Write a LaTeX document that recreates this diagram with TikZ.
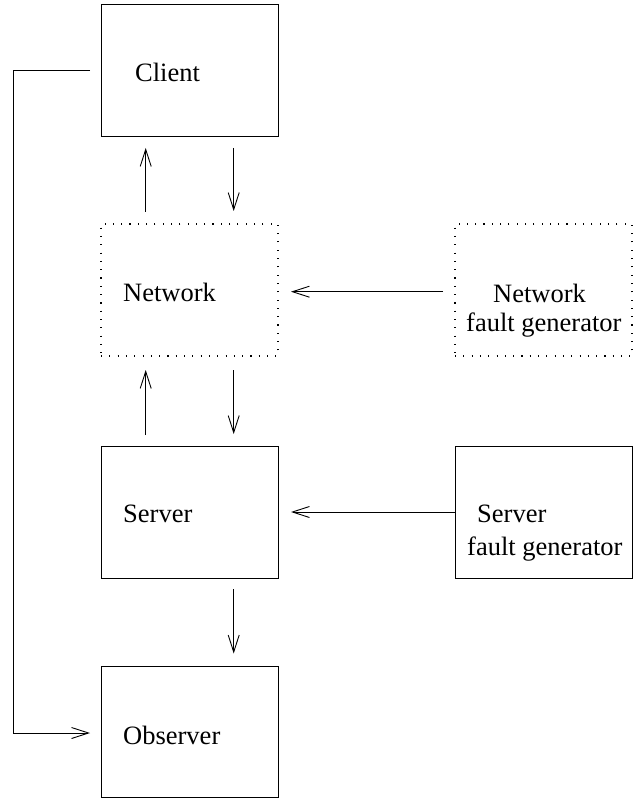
\documentclass[tikz,border=0pt]{standalone}
\usepackage{fontspec}
\setmainfont{Liberation Serif}
\usetikzlibrary{arrows.meta,calc}
\begin{document}
\begin{tikzpicture}[x=1pt,y=-1pt,
  box/.style={draw, line width=0.9pt, minimum width=177pt, minimum height=132pt, inner sep=0pt, outer sep=0pt},
  dotbox/.style={box, line width=1.1pt, dash pattern=on 1.1pt off 7.2pt},
  arr/.style={line width=0.9pt, -{Straight Barb[length=17pt,width=11pt,line width=0.9pt]}},
  lbl/.style={anchor=base west, inner sep=0pt, font=\fontsize{26.5}{29}\selectfont}]
\useasboundingbox (0,0) rectangle (637,799);
\node[box] (client) at (189.5,70) {};
\node[dotbox] (network) at (189.5,290) {};
\node[dotbox] (nfg) at (543.5,290) {};
\node[box] (server) at (189.5,512) {};
\node[box] (sfg) at (543.5,512) {};
\node[box, minimum height=131pt] (observer) at (189.5,732) {};
% labels
\node[lbl] (tclient) at (135,81.7) {Client};
\node[lbl] (tnetwork) at (123,301.7) {Network};
\node[lbl] (tnfg1) at (493,302.5) {Network};
\node[lbl] (tnfg2) at (466,331) {fault generator};
\node[lbl] (tserver) at (123,522.7) {Server};
\node[lbl] (tsfg1) at (477,522) {Server};
\node[lbl] (tsfg2) at (467,555.5) {fault generator};
\node[lbl] (tobserver) at (123,744) {Observer};
% connectors
\draw[arr, shorten <=12pt, shorten >=12pt] ($(network.north west)+(44.7,0)$) -- ($(client.south west)+(44.7,0)$);
\draw[arr, shorten <=12pt, shorten >=13pt] ($(client.south west)+(132.7,0)$) -- ($(network.north west)+(132.7,0)$);
\draw[arr, shorten <=11pt, shorten >=14pt] ($(server.north west)+(44.7,0)$) -- ($(network.south west)+(44.7,0)$);
\draw[arr, shorten <=14pt, shorten >=12pt] ($(network.south west)+(132.7,0)$) -- ($(server.north west)+(132.7,0)$);
\draw[arr, shorten <=11pt, shorten >=13pt] ($(server.south west)+(132.7,0)$) -- ($(observer.north west)+(132.7,0)$);
\draw[arr, shorten <=12pt, shorten >=13pt] ($(nfg.west)+(0,1.7)$) -- ($(network.east)+(0,1.7)$);
\draw[arr, shorten >=13pt] (sfg.west) -- (server.east);
\draw[arr, shorten <=11pt, shorten >=11pt] (client.west) -- ++(-88,0) |- ($(observer.west)+(0,1)$);
\end{tikzpicture}
\end{document}
